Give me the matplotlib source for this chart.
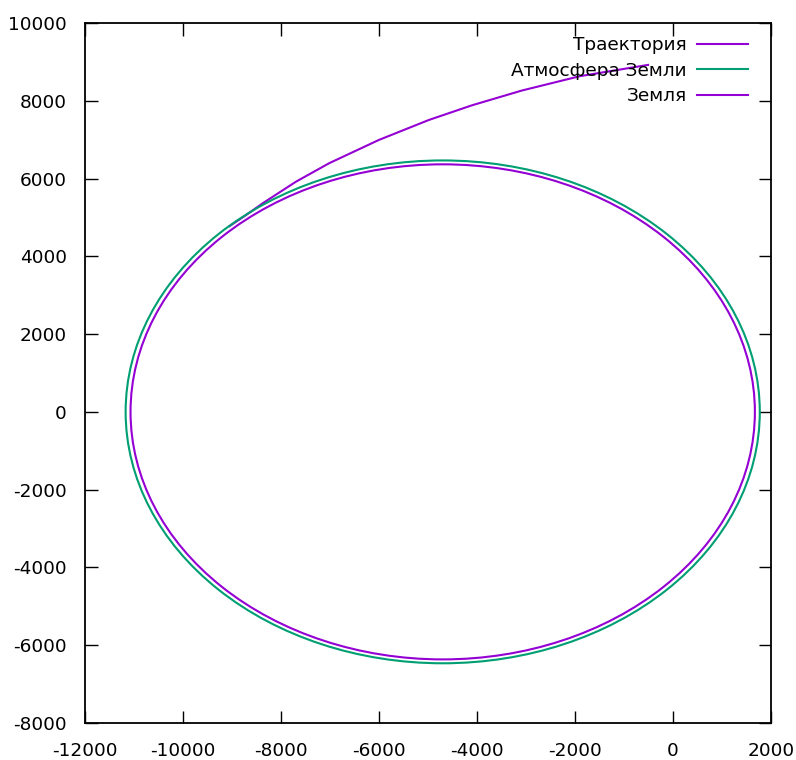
import matplotlib.pyplot as plt
from matplotlib.patches import Circle
from matplotlib.lines import Line2D

# ── Data ─────────────────────────────────────────────────────────────────────
traj_x = [-509, -1900, -3086, -4103, -4984, -6000, -7017, -7695, -8374, -8711, -9051]
traj_y = [8930, 8640, 8270, 7890, 7512, 7000, 6400, 5924, 5368, 5067, 4780]

earth_center = (-4700, 0)
earth_r = 6371
atmo_r = 6471

labels = ["Траектория", "Атмосфера Земли", "Земля"]
colors = ["#9400D3", "#009E73", "#9400D3"]

# ── Canvas ───────────────────────────────────────────────────────────────────
plt.rcParams["font.family"] = "DejaVu Sans"
plt.rcParams["axes.unicode_minus"] = False
fig = plt.figure(figsize=(7.96, 7.60), dpi=100)
ax = fig.add_axes([0.1068, 0.0491, 0.8618, 0.9202])

LW = 1.5
FS = 13.3
ax.plot(traj_x, traj_y, color=colors[0], lw=LW, zorder=2)
ax.add_patch(Circle(earth_center, atmo_r, fill=False, edgecolor=colors[1],
                    lw=LW, zorder=3))
ax.add_patch(Circle(earth_center, earth_r, fill=False, edgecolor=colors[2],
                    lw=LW, zorder=4))

ax.set_xlim(-12000, 2000)
ax.set_ylim(-8000, 10000)
ax.set_xticks(range(-12000, 2001, 2000))
ax.set_yticks(range(-8000, 10001, 2000))

for s in ax.spines.values():
    s.set_linewidth(1.3)
ax.tick_params(direction="in", length=9, width=1.0, top=True, right=True,
               labelsize=FS, pad=14)
ax.tick_params(axis="y", pad=13)

# ── Legend ───────────────────────────────────────────────────────────────────
handles = [Line2D([], [], color=c, lw=LW) for c in colors]
ax.legend(handles, labels, loc="upper right", bbox_to_anchor=(0.977, 0.992),
          frameon=False, fontsize=FS, markerfirst=False, handlelength=2.76,
          handletextpad=0.54, labelspacing=0.4, borderaxespad=0,
          borderpad=0.4)

plt.savefig("out.png", dpi=100, facecolor="white")
